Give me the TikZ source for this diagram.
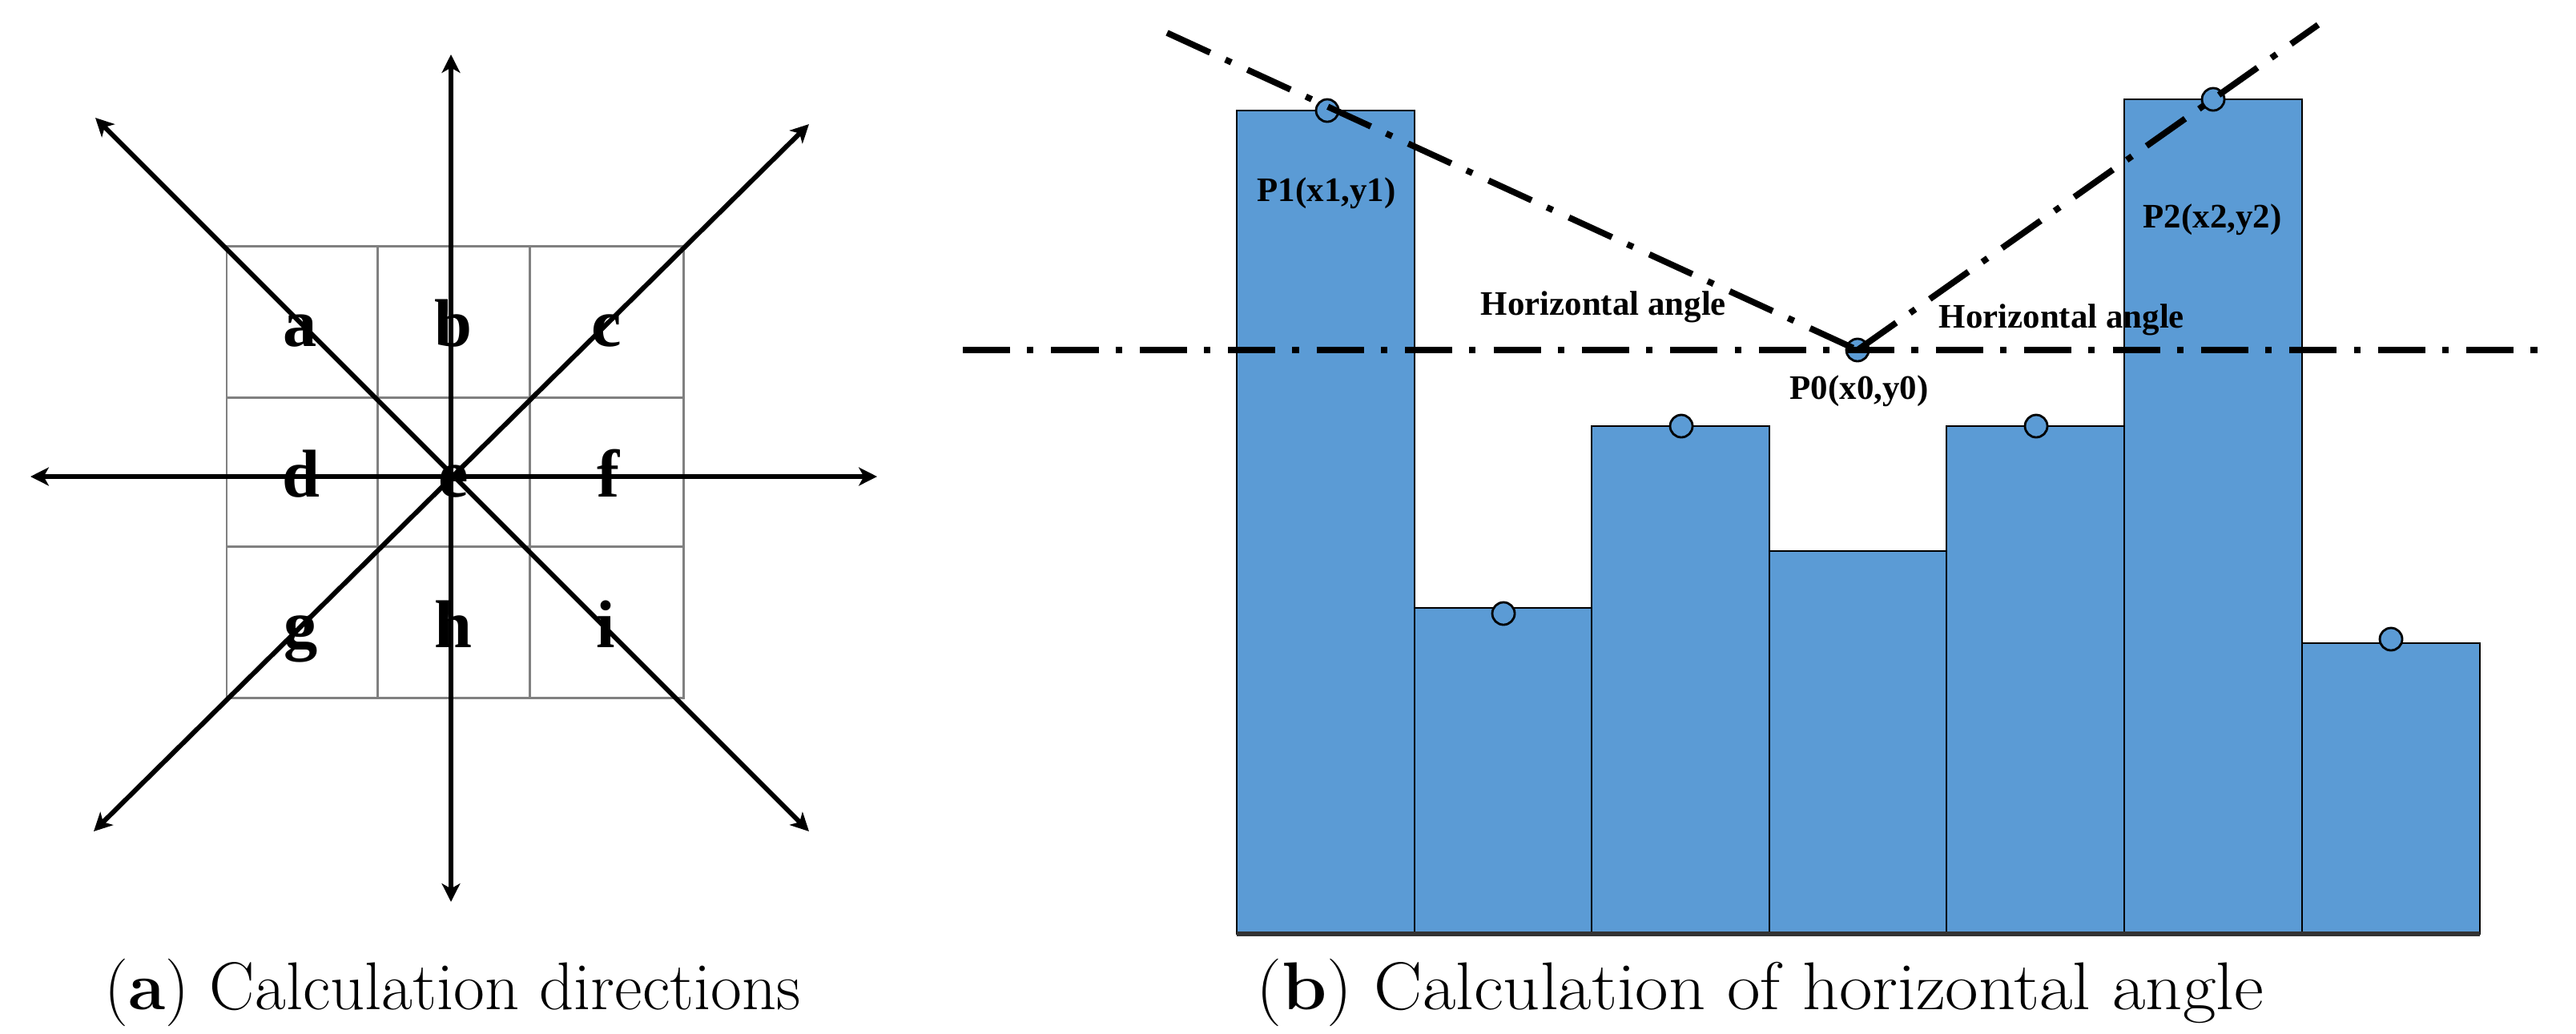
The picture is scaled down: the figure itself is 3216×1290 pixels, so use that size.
\documentclass[tikz,border=0pt]{standalone}
\usepackage{fontspec}
\newfontfamily\tnr{Liberation Serif}
\usetikzlibrary{arrows.meta}
\definecolor{barblue}{HTML}{5B9BD5}
\definecolor{gridgray}{HTML}{808080}
\begin{document}
\begin{tikzpicture}[x=0.01cm,y=-0.01cm,
  axis/.style={line width=1.7pt,
    {Stealth[length=6.5pt,width=6.5pt,inset=1.8pt]}-{Stealth[length=6.5pt,width=6.5pt,inset=1.8pt]}},
  gridline/.style={draw=gridgray, line width=0.85pt},
  cellletter/.style={font=\tnr\bfseries\fontsize{24}{28}\selectfont, inner sep=0pt, anchor=base},
  bar/.style={fill=barblue, draw=black, line width=0.7pt},
  ptmark/.style={circle, fill=barblue, draw=black, line width=0.8pt, minimum size=0.28cm, inner sep=0pt},
  dashdot/.style={line width=2.2pt, dash pattern=on 16.8pt off 6pt on 2.3pt off 6.3pt},
  lbl/.style={font=\tnr\bfseries\fontsize{12.2}{14}\selectfont, inner sep=0pt},
  captext/.style={font=\fontsize{24}{28}\selectfont, inner sep=0pt, anchor=base}
]
\useasboundingbox (0,0) rectangle (3216,1290);

% ---------- (a) grid ----------
\draw[gridline] (283,307) rectangle (853,871);
\draw[gridline] (471,307) -- (471,871);
\draw[gridline] (661,307) -- (661,871);
\draw[gridline] (283,496) -- (853,496);
\draw[gridline] (283,682) -- (853,682);

\node[cellletter] (la) at (375,432) {a};
\node[cellletter] (lb) at (566,432) {b};
\node[cellletter] (lc) at (757,432) {c};
\node[cellletter] (ld) at (376,620) {d};
\node[cellletter] (le) at (566,620) {e};
\node[cellletter] (lf) at (760,620) {f};
\node[cellletter] (lg) at (376,808) {g};
\node[cellletter] (lh) at (566,808) {h};
\node[cellletter] (li) at (756,808) {i};

\coordinate (N) at (563,68);
\coordinate (S) at (563,1126);
\coordinate (W) at (38,595);
\coordinate (E) at (1095,595);
\coordinate (NW) at (119,147);
\coordinate (SE) at (1010,1038);
\coordinate (SW) at (117,1038);
\coordinate (NE) at (1010,155);
\draw[axis] (N) -- (S);
\draw[axis] (W) -- (E);
\draw[axis] (NW) -- (SE);
\draw[axis] (SW) -- (NE);

% ---------- (b) bars ----------
\draw[bar] (1544,138) rectangle (1766,1166);
\draw[bar] (1766,759) rectangle (1987,1166);
\draw[bar] (1987,532) rectangle (2209,1166);
\draw[bar] (2209,688) rectangle (2430,1166);
\draw[bar] (2430,532) rectangle (2652,1166);
\draw[bar] (2652,124) rectangle (2874,1166);
\draw[bar] (2874,803) rectangle (3096,1166);
\draw[line width=1.6pt, black!80] (1544,1166) -- (3096,1166);

\node[ptmark] (p1) at (1657,138) {};
\node[ptmark] (q2) at (1877,766) {};
\node[ptmark] (q3) at (2099,532) {};
\node[ptmark] (p0) at (2319,437) {};
\node[ptmark] (q5) at (2542,532) {};
\node[ptmark] (p2) at (2763,124) {};
\node[ptmark] (q7) at (2985,798) {};

\coordinate (L1) at (1457,41);
\coordinate (R1) at (2894,31);
\coordinate (H1) at (1202,437);
\coordinate (H2) at (3183,437);
\draw[dashdot] (L1) -- (p0.center);
\draw[dashdot] (p0.center) -- (R1);
\draw[dashdot] (H1) -- (H2);

\node[lbl, anchor=base] (t1) at (1656,251) {P1(x1,y1)};
\node[lbl, anchor=base] (t2) at (2762,284) {P2(x2,y2)};
\node[lbl, anchor=base] (t0) at (2321,498) {P0(x0,y0)};
\node[lbl, anchor=base west] (hl) at (1848,393) {Horizontal angle};
\node[lbl, anchor=base west] (hr) at (2420,409) {Horizontal angle};

% ---------- captions ----------
\node[captext] (capa) at (565,1260) {({\bfseries a}) Calculation directions};
\node[captext] (capb) at (2197,1260) {\scalebox{1.07}[1]{({\bfseries b}) Calculation of horizontal angle}};
\end{tikzpicture}
\end{document}
